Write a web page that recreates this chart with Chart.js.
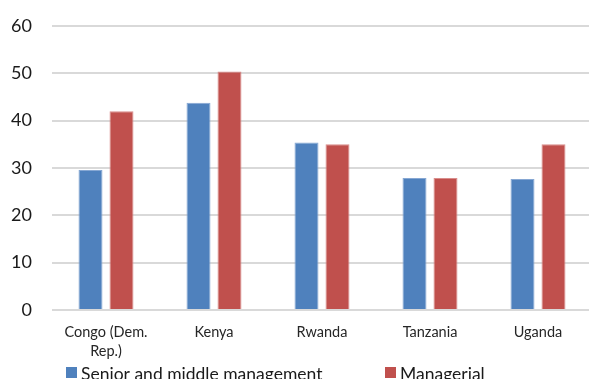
<!DOCTYPE html>
<html>
<head>
<meta charset="utf-8">
<script src="https://cdn.jsdelivr.net/npm/chart.js@4/dist/chart.umd.min.js"></script>
<style>
  html, body { margin: 0; padding: 0; background: #fff; overflow: hidden; }
  #wrap { position: relative; width: 600px; height: 379px; }
</style>
</head>
<body>
<div id="wrap"><canvas id="c" width="600" height="379"></canvas></div>
<script>
// Share of women by job level, per country
const countries = [['Congo (Dem.', 'Rep.)'], 'Kenya', 'Rwanda', 'Tanzania', 'Uganda'];
const seniorMiddle = [29.6, 43.8, 35.4, 27.9, 27.7];
const managerial = [42.0, 50.4, 35.0, 27.9, 35.0];
const seriesNames = ['Senior and middle management', 'Managerial'];
const yTicks = [0, 10, 20, 30, 40, 50, 60];

const BLUE = '#4F81BD';
const RED = '#C0504D';

// Legend drawn below the axis labels, Excel-style spacing
const bottomLegend = {
  id: 'bottomLegend',
  afterDraw(chart) {
    const ctx = chart.ctx;
    const xs = [66, 385];
    ctx.save();
    ctx.font = '17.5px Lato';
    ctx.textBaseline = 'alphabetic';
    ctx.textAlign = 'left';
    chart.data.datasets.forEach((ds, i) => {
      ctx.fillStyle = ds.backgroundColor;
      ctx.fillRect(xs[i], 367, 11, 11);
      ctx.fillStyle = '#1a1a1a';
      ctx.fillText(ds.label, xs[i] + 15, 379.5);
    });
    ctx.restore();
  }
};

new Chart(document.getElementById('c'), {
  type: 'bar',
  data: {
    labels: countries,
    datasets: [
      { label: seriesNames[0], data: seniorMiddle, backgroundColor: BLUE,
        borderColor: '#86A7D3', borderWidth: 1 },
      { label: seriesNames[1], data: managerial, backgroundColor: RED,
        borderColor: '#D98D8B', borderWidth: 1 }
    ]
  },
  options: {
    responsive: false,
    animation: false,
    layout: { padding: { top: 0, right: 8, bottom: 0, left: 0 } },
    plugins: { legend: { display: false }, tooltip: { enabled: false } },
    datasets: { bar: { barPercentage: 0.774, categoryPercentage: 0.574 } },
    scales: {
      x: {
        grid: { display: false, drawTicks: false },
        border: { display: false },
        ticks: {
          maxRotation: 0, autoSkip: false, padding: 13,
          color: '#262626',
          font: { family: 'Lato', size: 14.5, lineHeight: 1.3 }
        },
        afterFit(scale) { scale.height = 69; }
      },
      y: {
        min: 0, max: 60,
        afterBuildTicks(scale) { scale.ticks = yTicks.map(v => ({ value: v })); },
        grid: { color: '#D9D9D9', lineWidth: 2, drawTicks: false },
        border: { display: false },
        ticks: {
          padding: 20, color: '#1a1a1a',
          // compact line height keeps the top of the plot close to the "60" label
          font: { family: 'Lato', size: 18, lineHeight: 0.667 }
        },
        afterFit(scale) { scale.width = 52; }
      }
    }
  },
  plugins: [bottomLegend]
});
</script>
</body>
</html>
